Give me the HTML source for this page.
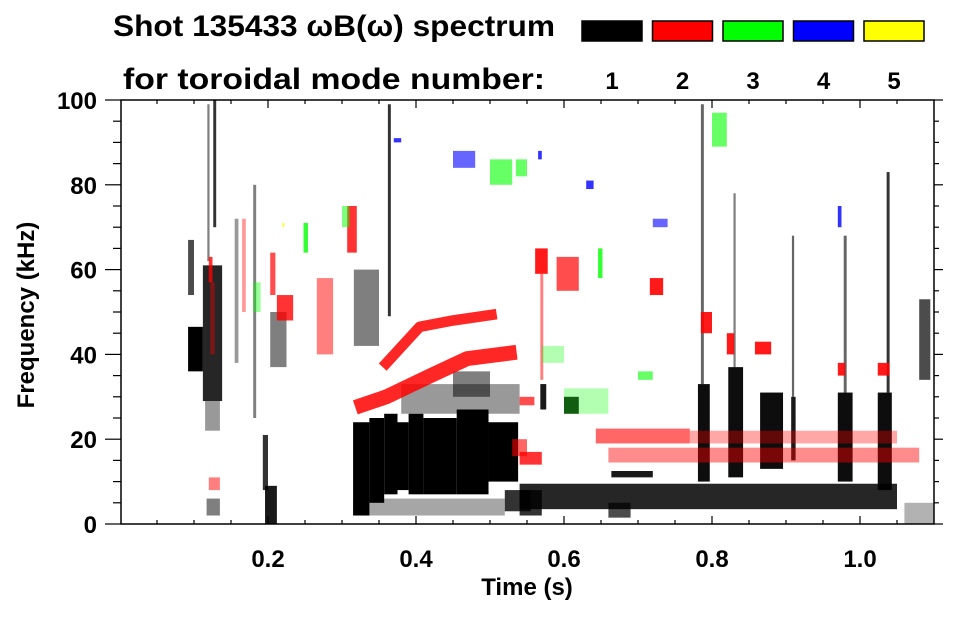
<!DOCTYPE html>
<html><head><meta charset="utf-8">
<style>
html,body{margin:0;padding:0;background:#fff;}
body{width:963px;height:615px;overflow:hidden;font-family:"Liberation Sans",sans-serif;}
svg text{font-family:"Liberation Sans",sans-serif;font-weight:bold;fill:#000;}
</style></head>
<body>
<svg id="chart" width="963" height="615" viewBox="0 0 963 615">
  <text x="113" y="36" font-size="30" textLength="442" lengthAdjust="spacingAndGlyphs">Shot 135433 ωB(ω) spectrum</text>
  <text x="123" y="89" font-size="30" textLength="422" lengthAdjust="spacingAndGlyphs">for toroidal mode number:</text>
  <g id="legend"></g>
  <g id="marks"></g>
  <g id="axes"></g>
  <text x="527" y="595" font-size="24" text-anchor="middle">Time (s)</text>
  <text x="0" y="0" font-size="24" text-anchor="middle" transform="translate(34,315) rotate(-90)">Frequency (kHz)</text>
</svg>
<script>
// ---- data ----
const modeLabels = ["1","2","3","4","5"];
const modeColors = ["#000000","#ff0000","#00ff00","#0000ff","#ffff00"];
const xTicks = [0.2,0.4,0.6,0.8,1.0];
const xTickLabels = ["0.2","0.4","0.6","0.8","1.0"];
const yTicks = [0,20,40,60,80,100];
const yTickLabels = ["0","20","40","60","80","100"];
// features: [tStart(s), tEnd(s), fLow(kHz), fHigh(kHz), intensity]
const mode1Features = [
 [.092,.112,36,46.5,1],[.092,.100,54,67,.7],[.112,.138,29,61,.85],[.115,.135,22,29,.4],
 [.118,.121,62,99,.5],[.126,.130,70,100,.8],[.117,.135,2,6,.5],
 [.193,.200,8,21,.8],[.196,.212,0,9,.9],[.203,.225,37,50,.5],[.155,.160,38,72,.4],[.180,.184,25,80,.5],
 [.316,.35,42,60,.5],[.362,.366,49,99,.8],
 [.315,.337,2,24,1],[.337,.357,5,25,1],[.357,.375,7,26,1],[.375,.39,8,24,1],[.39,.41,7,26,1],
 [.41,.455,7,25,1],[.455,.498,7,27,1],[.498,.538,10,24,1],
 [.38,.54,26,33,.4],[.45,.50,30,36,.5],[.315,.52,2,6,.35],[.52,.555,3,8,.8],
 [.54,1.05,3.5,9.5,.85],[.54,.57,2,8,.8],[.66,.69,1.5,5,.7],
 [.568,.576,27,33,.9],[.60,.62,26,30,.9],[.664,.72,11,12.5,.9],
 [.781,.797,10,33,.95],[.785,.789,33,99,.6],[.822,.842,11,37,.95],[.829,.832,37,78,.5],
 [.865,.896,13,31,.95],[.907,.913,15,30,.9],[.908,.911,30,68,.6],
 [.97,.99,10,31,.95],[.978,.982,31,68,.6],[1.024,1.043,8,31,.95],[1.036,1.040,31,83,.8],
 [1.08,1.095,34,53,.7],[1.06,1.10,0,5,.3]
];
const mode2Features = [
 [.12,.125,57,63,.8],[.122,.128,40,57,.4],[.165,.17,50,72,.4],[.203,.21,54,64,.7],[.212,.234,48,54,.8],
 [.266,.288,40,58,.5],[.307,.32,64,75,.8],[.561,.578,59,65,.9],[.568,.572,34,59,.5],[.59,.62,55,63,.7],
 [.716,.734,54,58,.9],[.643,.77,19,22.5,.6],[.66,1.08,14.5,18,.45],[.77,1.05,19,22,.35],
 [.54,.57,14,17,.8],[.54,.56,28,30,.7],[.53,.55,16,20,.6],
 [.785,.80,45,50,.9],[.82,.83,40,45,.9],[.858,.88,40,43,.9],[.97,.98,35,38,.9],[1.024,1.04,35,38,.9],
 [.12,.135,8,11,.5]
];
const mode3Features = [
 [.248,.254,64,71,.8],[.50,.53,80,86,.6],[.535,.55,82,86,.6],[.57,.60,38,42,.3],[.60,.66,26,32,.3],
 [.646,.652,58,65,.8],[.80,.82,89,97,.6],[.18,.19,50,57,.4],[.30,.31,70,75,.5],[.70,.72,34,36,.6]
];
const mode4Features = [[.45,.48,84,88,.6],[.565,.57,86,88,.8],[.63,.64,79,81,.8],[.72,.74,70,72,.6],[.97,.975,70,75,.8],[.37,.38,90,91,.8]];
const mode5Features = [[.22,.222,70,71,1]];
// n=2 chirps
const chirpLowT = [.318,.36,.42,.469,.536];
const chirpLowF = [27.5,30,35,39,40.5];
const chirpHighT = [.355,.405,.45,.509];
const chirpHighF = [37,46.5,48,49.5];

// ---- scales ----
const X0=121,X1=934,Y0=524,Y1=100;
const xS = t => 120 + t*740;
const yS = f => Y0 - f*(Y0-Y1)/100;
const NS="http://www.w3.org/2000/svg";
function mk(tag,attrs,parent){const e=document.createElementNS(NS,tag);for(const k in attrs)e.setAttribute(k,attrs[k]);parent.appendChild(e);return e;}

// legend
const lg=document.getElementById('legend');
modeLabels.forEach((m,i)=>{
  const x=582+i*70.5;
  const r=mk('rect',{x:x,y:21,width:60,height:20,fill:modeColors[i],stroke:'#000','stroke-width':1.5},lg);
  
  
  const t=mk('text',{x:x+30,y:89,'font-size':24,'text-anchor':'middle'},lg);
  t.textContent=m;
  
  
});

// marks
const mg=document.getElementById('marks');
const groups=[mode1Features,mode2Features,mode3Features,mode4Features,mode5Features];
groups.forEach((arr,gi)=>{
  arr.forEach((d,j)=>{
    const x=xS(d[0]),w=Math.max(1.2,xS(d[1])-xS(d[0]));
    const y=yS(d[3]),h=Math.max(1.2,yS(d[2])-yS(d[3]));
    const r=mk('rect',{x:x,y:y,width:w,height:h,fill:modeColors[gi],'fill-opacity':d[4]},mg);
    
    
  });
});
function chirp(ts,fs,wk,name){
  const pts=ts.map((t,i)=>xS(t)+','+yS(fs[i])).join(' ');
  const p=mk('polyline',{points:pts,fill:'none',stroke:'#ff0000','stroke-opacity':0.85,'stroke-width':wk*(Y0-Y1)/100,'stroke-linejoin':'round'},mg);
  
  
}
chirp(chirpLowT,chirpLowF,3.5,'chirp-lower-n2');
chirp(chirpHighT,chirpHighF,2.5,'chirp-upper-n2');

// axes
const ax=document.getElementById('axes');
const frame=mk('rect',{x:X0,y:Y1,width:X1-X0,height:Y0-Y1,fill:'none',stroke:'#000','stroke-width':1.5},ax);


for(let k=1;k<=21;k++){
  const t=k*0.05,x=xS(t); if(x<X0||x>X1)continue;
  const major=(k%4===0);const L=major?8:4;
  mk('line',{x1:x,x2:x,y1:Y0,y2:Y0-L,stroke:'#000','stroke-width':1.2},ax);
  mk('line',{x1:x,x2:x,y1:Y1,y2:Y1+L,stroke:'#000','stroke-width':1.2},ax);
}
for(let k=0;k<=20;k++){
  const f=k*5,y=yS(f);const major=(k%4===0);
  mk('line',{x1:X0,x2:X0-(major?16:8),y1:y,y2:y,stroke:'#000','stroke-width':1.2},ax);
  mk('line',{x1:X1,x2:X1+(major?9:5),y1:y,y2:y,stroke:'#000','stroke-width':1.2},ax);
}
xTicks.forEach((t,i)=>{
  const e=mk('text',{x:xS(t),y:567,'font-size':24,'text-anchor':'middle'},ax);
  e.textContent=xTickLabels[i];
  
  
});
yTicks.forEach((f,i)=>{
  const e=mk('text',{x:97,y:yS(f)+9,'font-size':24,'text-anchor':'end'},ax);
  e.textContent=yTickLabels[i];
  
  
});
</script>
</body></html>
